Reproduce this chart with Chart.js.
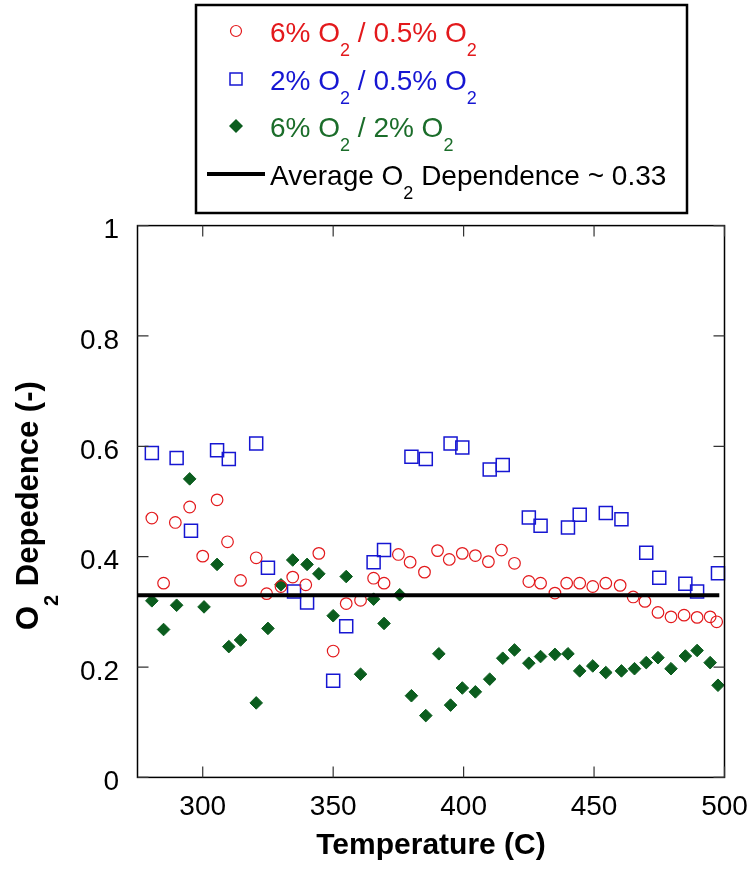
<!DOCTYPE html>
<html>
<head>
<meta charset="utf-8">
<title>O2 Dependence vs Temperature</title>
<script src="https://cdn.jsdelivr.net/npm/chart.js@4.4.1/dist/chart.umd.min.js"></script>
<style>
  html, body { margin: 0; padding: 0; background: #fff; }
  #wrap { width: 751px; height: 875px; }
</style>
</head>
<body>
<div id="wrap"><canvas id="o2Chart" width="751" height="875"></canvas></div>
<script>
// ---- data ----
const redX = [280.5, 285, 289.5, 295, 300, 305.5, 309.5, 314.5, 320.5, 324.5, 330, 334.5, 339.5, 344.5, 350,
  355, 360.5, 365.5, 369.5, 375, 379.5, 385, 390, 394.5, 399.5, 404.5, 409.5, 414.5, 419.5, 425,
  429.5, 435, 439.5, 444.5, 449.5, 454.5, 460, 465, 469.5, 474.5, 479.5, 484.5, 489.5, 494.5, 497];
const redY = [0.470, 0.352, 0.462, 0.490, 0.401, 0.503, 0.427, 0.357, 0.398, 0.333, 0.346, 0.363, 0.349, 0.406, 0.229,
  0.315, 0.321, 0.361, 0.352, 0.404, 0.390, 0.372, 0.411, 0.395, 0.406, 0.402, 0.391, 0.412, 0.388, 0.355,
  0.352, 0.334, 0.352, 0.352, 0.346, 0.352, 0.348, 0.327, 0.319, 0.299, 0.291, 0.294, 0.290, 0.291, 0.282];

const blueX = [280.5, 290, 295.5, 305.5, 310, 320.5, 325, 335, 340, 350, 355, 365.5, 369.5, 380, 385.5,
  395, 399.5, 410, 415, 425, 429.5, 440, 444.5, 454.5, 460.5, 470, 475, 485, 489.5, 497.5];
const blueY = [0.588, 0.579, 0.447, 0.593, 0.577, 0.605, 0.380, 0.337, 0.317, 0.175, 0.274, 0.390, 0.412, 0.581, 0.577,
  0.605, 0.598, 0.558, 0.566, 0.471, 0.456, 0.453, 0.476, 0.479, 0.468, 0.407, 0.362, 0.351, 0.337, 0.370];

const greenX = [280.5, 285, 290, 295, 300.5, 305.5, 310, 314.5, 320.5, 325, 330, 334.5, 340, 344.5, 350,
  355, 360.5, 365.5, 369.5, 375.5, 380, 385.5, 390.5, 395, 399.5, 404.5, 410, 415, 419.5, 425,
  429.5, 435, 440, 444.5, 449.5, 454.5, 460.5, 465.5, 470, 474.5, 479.5, 485, 489.5, 494.5, 497.5];
const greenY = [0.320, 0.268, 0.312, 0.541, 0.309, 0.386, 0.237, 0.249, 0.135, 0.270, 0.349, 0.394, 0.386, 0.369, 0.293,
  0.364, 0.187, 0.323, 0.279, 0.331, 0.148, 0.112, 0.224, 0.131, 0.162, 0.155, 0.178, 0.216, 0.231, 0.207,
  0.219, 0.223, 0.224, 0.193, 0.202, 0.190, 0.193, 0.197, 0.208, 0.217, 0.197, 0.220, 0.230, 0.208, 0.167];

const avgX = [275, 498];
const avgY = [0.33, 0.33];

const xTicks = [300, 350, 400, 450, 500];
const yTicks = [0, 0.2, 0.4, 0.6, 0.8, 1];

const FONT = "'Liberation Sans', Arial, Helvetica, sans-serif";
const RED = '#e3191c';
const BLUE = '#1616d2';
const GREEN = '#0b5d1e';

function pts(xs, ys) {
  return xs.map((x, i) => ({ x: x, y: ys[i] }));
}

// text with subscripts: parts = [[text, isSub], ...]
function drawRich(ctx, parts, x, y, size, subSize, subDrop, bold) {
  let cx = x;
  const w = bold ? 'bold ' : '';
  parts.forEach(p => {
    ctx.font = w + (p[1] ? subSize : size) + 'px ' + FONT;
    ctx.fillText(p[0], cx, p[1] ? y + subDrop : y);
    cx += ctx.measureText(p[0]).width;
  });
}

// frame with inward ticks on every side
const framePlugin = {
  id: 'frame',
  afterDraw(chart) {
    const { ctx, chartArea: a, scales } = chart;
    ctx.save();
    ctx.strokeStyle = '#000';
    ctx.lineWidth = 1.5;
    ctx.strokeRect(a.left, a.top, a.right - a.left, a.bottom - a.top);
    ctx.lineWidth = 1.2;
    ctx.strokeStyle = '#333';
    const tl = 11;
    ctx.beginPath();
    xTicks.forEach(v => {
      const px = scales.x.getPixelForValue(v);
      ctx.moveTo(px, a.bottom); ctx.lineTo(px, a.bottom - tl);
      ctx.moveTo(px, a.top); ctx.lineTo(px, a.top + tl);
    });
    yTicks.forEach(v => {
      const py = scales.y.getPixelForValue(v);
      ctx.moveTo(a.left, py); ctx.lineTo(a.left + tl, py);
      ctx.moveTo(a.right, py); ctx.lineTo(a.right - tl, py);
    });
    ctx.stroke();
    ctx.restore();
  }
};

// y title with subscript
const yTitlePlugin = {
  id: 'yTitle',
  afterDraw(chart) {
    const ctx = chart.ctx;
    ctx.save();
    ctx.translate(38, 630);
    ctx.rotate(-Math.PI / 2);
    ctx.fillStyle = '#000';
    ctx.textBaseline = 'alphabetic';
    ctx.textAlign = 'left';
    drawRich(ctx, [['O', false], ['2', true], [' Depedence (-)', false]], 0, 0, 31, 20, 20, true);
    ctx.restore();
  }
};

// boxed legend at the top
const legendPlugin = {
  id: 'boxLegend',
  afterDraw(chart) {
    const ctx = chart.ctx;
    ctx.save();
    ctx.lineWidth = 2.5;
    ctx.strokeStyle = '#000';
    ctx.strokeRect(196, 5, 491, 208);

    const mx = 236;
    // circle
    ctx.strokeStyle = RED; ctx.lineWidth = 1.2;
    ctx.beginPath(); ctx.arc(mx, 31, 5.5, 0, Math.PI * 2); ctx.stroke();
    // square
    ctx.strokeStyle = BLUE; ctx.lineWidth = 1.5;
    ctx.strokeRect(mx - 6, 73, 12, 12);
    // diamond
    ctx.fillStyle = GREEN;
    ctx.beginPath();
    ctx.moveTo(mx, 119); ctx.lineTo(mx + 7, 126); ctx.lineTo(mx, 133); ctx.lineTo(mx - 7, 126);
    ctx.closePath(); ctx.fill();
    // line
    ctx.strokeStyle = '#000'; ctx.lineWidth = 4;
    ctx.beginPath(); ctx.moveTo(207, 174); ctx.lineTo(265, 174); ctx.stroke();

    ctx.textBaseline = 'alphabetic';
    ctx.textAlign = 'left';
    const tx = 270;
    ctx.fillStyle = RED;
    drawRich(ctx, [['6% O', false], ['2', true], [' / 0.5% O', false], ['2', true]], tx, 41.7, 28, 18, 14.3, false);
    ctx.fillStyle = BLUE;
    drawRich(ctx, [['2% O', false], ['2', true], [' / 0.5% O', false], ['2', true]], tx, 89.5, 28, 18, 14.3, false);
    ctx.fillStyle = '#1b6d2a';
    drawRich(ctx, [['6% O', false], ['2', true], [' / 2% O', false], ['2', true]], tx, 137, 28, 18, 14.3, false);
    ctx.fillStyle = '#000';
    drawRich(ctx, [['Average O', false], ['2', true], [' Dependence ~ 0.33', false]], tx, 185, 28, 18, 14.3, false);
    ctx.restore();
  }
};

new Chart(document.getElementById('o2Chart').getContext('2d'), {
  type: 'scatter',
  data: {
    datasets: [
      {
        type: 'line',
        label: 'Average O2 Dependence ~ 0.33',
        data: pts(avgX, avgY),
        borderColor: '#000',
        borderWidth: 4,
        pointRadius: 0,
        fill: false,
        clip: false,
        order: 0
      },
      {
        label: '6% O2 / 0.5% O2',
        data: pts(redX, redY),
        pointStyle: 'circle',
        pointRadius: 5.8,
        borderColor: RED,
        backgroundColor: 'rgba(0,0,0,0)',
        borderWidth: 1.2,
        clip: false,
        order: 1
      },
      {
        label: '2% O2 / 0.5% O2',
        data: pts(blueX, blueY),
        pointStyle: 'rect',
        pointRadius: 9.2,
        borderColor: BLUE,
        backgroundColor: 'rgba(0,0,0,0)',
        borderWidth: 1.5,
        clip: false,
        order: 2
      },
      {
        label: '6% O2 / 2% O2',
        data: pts(greenX, greenY),
        pointStyle: 'rectRot',
        pointRadius: 6.3,
        borderColor: GREEN,
        backgroundColor: GREEN,
        borderWidth: 1,
        clip: false,
        order: 3
      }
    ]
  },
  options: {
    responsive: false,
    animation: false,
    devicePixelRatio: 1,
    events: [],
    layout: { padding: { top: 225.6, right: 26.5, left: 0, bottom: 0 } },
    plugins: {
      legend: { display: false },
      tooltip: { enabled: false }
    },
    scales: {
      x: {
        type: 'linear',
        min: 275,
        max: 500,
        afterBuildTicks: s => { s.ticks = xTicks.map(v => ({ value: v })); },
        afterFit: s => { s.height = 97.6; s.paddingLeft = 0; s.paddingRight = 0; },
        grid: { display: false, drawTicks: false },
        border: { display: false },
        ticks: {
          color: '#000',
          padding: 13,
          maxRotation: 0,
          font: { family: FONT, size: 28 },
          callback: v => String(v)
        },
        title: {
          display: true,
          text: 'Temperature (C)',
          color: '#000',
          font: { family: FONT, size: 30, weight: 'bold' },
          padding: { top: 0, bottom: 11.5 }
        }
      },
      y: {
        type: 'linear',
        min: 0,
        max: 1,
        afterBuildTicks: s => { s.ticks = yTicks.map(v => ({ value: v })); },
        afterFit: s => { s.width = 137.5; s.paddingTop = 0; s.paddingBottom = 0; },
        grid: { display: false, drawTicks: false },
        border: { display: false },
        ticks: {
          color: '#000',
          padding: 18.5,
          labelOffset: 5,
          font: { family: FONT, size: 28 },
          callback: v => String(v)
        },
        title: { display: false }
      }
    }
  },
  plugins: [framePlugin, yTitlePlugin, legendPlugin]
});
</script>
</body>
</html>
